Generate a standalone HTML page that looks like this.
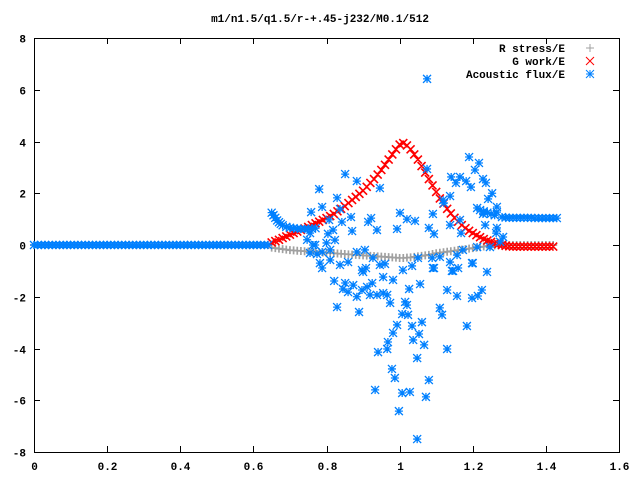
<!DOCTYPE html>
<html><head><meta charset="utf-8"><style>
html,body{margin:0;padding:0;background:#fff;}
svg{display:block;font-family:"Liberation Mono",monospace;}
</style></head><body>
<svg id="chart" width="640" height="480" viewBox="0 0 640 480" xmlns="http://www.w3.org/2000/svg">
<rect x="0" y="0" width="640" height="480" fill="#fff"/>
<text x="320" y="22" text-anchor="middle" font-size="11" font-weight="bold" fill="#000">m1/n1.5/q1.5/r-+.45-j232/M0.1/512</text>
<g id="axes"></g>
<g id="series"></g>
<g id="legend"></g>
</svg>
<script>
const xTicks = [0, 0.2, 0.4, 0.6, 0.8, 1, 1.2, 1.4, 1.6];
const xTickLabels = ["0", "0.2", "0.4", "0.6", "0.8", "1", "1.2", "1.4", "1.6"];
const yTicks = [-8, -6, -4, -2, 0, 2, 4, 6, 8];
const yTickLabels = ["-8", "-6", "-4", "-2", "0", "2", "4", "6", "8"];
const curveX0 = 0.65;
const gWork = [0.10,0.15,0.20,0.27,0.33,0.40,0.46,0.52,0.58,0.64,0.70,0.77,0.84,0.90,0.97,1.04,1.12,1.20,1.30,1.40,1.50,1.62,1.74,1.86,1.98,2.10,2.25,2.40,2.55,2.72,2.90,3.10,3.30,3.50,3.70,3.88,3.94,3.85,3.70,3.50,3.30,3.05,2.80,2.55,2.30,2.05,1.80,1.60,1.40,1.22,1.05,0.90,0.77,0.65,0.55,0.46,0.38,0.30,0.23,0.17,0.12,0.07,0.03,0.00,-0.03,-0.05,-0.06,-0.06,-0.06,-0.06,-0.06,-0.06,-0.06,-0.06,-0.06,-0.06,-0.06,-0.06];
const rStress = [-0.10,-0.12,-0.14,-0.16,-0.18,-0.20,-0.21,-0.22,-0.23,-0.24,-0.25,-0.26,-0.27,-0.28,-0.29,-0.30,-0.31,-0.32,-0.33,-0.34,-0.35,-0.36,-0.37,-0.38,-0.39,-0.40,-0.41,-0.42,-0.43,-0.44,-0.45,-0.46,-0.47,-0.48,-0.49,-0.50,-0.50,-0.49,-0.48,-0.46,-0.44,-0.42,-0.40,-0.38,-0.35,-0.32,-0.30,-0.28,-0.26,-0.24,-0.22,-0.20,-0.18,-0.16,-0.14,-0.12,-0.10,-0.08,-0.06,-0.04,-0.03,-0.02,-0.01,0.00,0.00,0.00,0.00,0.00,0.00,0.00,0.00,0.00,0.00,0.00,0.00,0.00,0.00,0.00];
const flatR = [0,0,0,0,0,0,0,0,0,0,0,0,0,0,0,0,0,0,0,0,0,0,0,0,0,0,0,0,0,0,0,0,0,0,0,0,0,0,0,0,0,0,0,0,0,0,0,0,0,0,0,0,0,0,0,0,0,0,0,0,0,0,0,0,0];
const flatA = [0,0,0,0,0,0,0,0,0,0,0,0,0,0,0,0,0,0,0,0,0,0,0,0,0,0,0,0,0,0,0,0,0,0,0,0,0,0,0,0,0,0,0,0,0,0,0,0,0,0,0,0,0,0,0,0,0,0,0,0,0,0,0,0,0];
const acX = [0.65,0.655,0.66,0.665,0.67,0.675,0.68,0.69,0.70,0.71,0.72,0.73,0.74,0.75,0.76,0.77,
1.075,0.851,0.883,0.78,0.946,0.829,0.788,0.758,0.837,0.867,0.842,0.807,0.818,0.804,0.87,0.922,0.914,0.938,0.993,1.001,1.02,1.042,1.08,1.094,1.091,1.075,1.119,1.138,1.141,1.165,1.154,1.182,1.19,1.217,1.206,1.228,1.236,1.195,1.253,1.242,1.212,1.228,1.266,1.234,1.266,1.264,1.165,1.168,1.138,1.121,
0.763,0.755,0.747,0.769,0.774,0.788,0.81,0.80,0.823,0.755,0.782,0.788,0.81,0.837,0.859,0.883,0.897,0.908,0.905,0.927,0.946,0.96,1.009,1.034,1.05,1.091,1.089,1.11,1.138,1.146,1.16,1.157,1.173,1.198,1.239,1.212,1.247,1.275,1.283,
0.821,0.851,0.845,0.859,0.873,0.883,0.897,0.911,0.925,0.919,0.938,0.955,0.966,0.974,0.982,0.955,1.026,1.056,1.015,1.02,1.007,1.023,1.061,1.034,0.993,0.982,1.053,0.968,1.037,1.067,0.941,0.966,1.13,1.157,1.11,1.116,1.198,1.214,1.225,1.184,1.13,1.048,0.979,0.987,1.08,0.933,1.007,1.028,1.072,0.998,1.048,0.829,0.889,1.094,1.143,1.2,1.239,0.9,
1.22,1.23,1.24,1.25,1.26,1.266,1.28,1.29,1.30,1.31,1.32,1.33,1.34,1.35,1.36,1.37,1.38,1.39,1.40,1.41,1.42,1.43];
const acY = [1.25,1.15,1.05,0.95,0.88,0.82,0.76,0.70,0.67,0.65,0.63,0.62,0.62,0.62,0.63,0.65,
6.42,2.74,2.47,2.16,2.2,1.82,1.47,1.27,1.39,1.08,0.89,0.97,0.58,0.43,0.54,1.04,0.89,0.58,0.62,1.24,1.0,0.93,0.66,0.43,1.2,2.94,1.74,1.89,2.63,2.63,2.4,2.47,3.4,3.17,2.9,2.55,2.4,2.24,2.0,1.78,1.43,1.2,1.47,0.77,0.66,0.46,0.97,0.46,0.77,1.62,
0.0,0.46,0.2,0.0,-0.35,-0.27,-0.19,0.08,0.19,-0.31,-0.7,-0.89,-0.58,-0.77,-0.66,-0.27,-0.97,-0.89,-0.19,-0.5,-0.77,-0.73,-0.97,-0.81,-0.5,-0.89,-0.5,-0.46,-0.66,-1.0,-0.89,-0.39,-0.19,-0.7,-1.04,-0.08,-0.08,0.12,0.31,
-1.39,-1.47,-1.7,-1.82,-1.55,-2.0,-1.74,-1.62,-1.47,-1.93,-1.93,-1.86,-1.93,-2.24,-1.35,-1.24,-1.7,-1.51,-2.2,-2.32,-2.67,-2.7,-2.98,-3.13,-3.09,-3.4,-3.44,-3.75,-3.67,-3.86,-4.14,-4.02,-1.74,-1.97,-2.43,-2.7,-2.05,-1.97,-1.74,-3.13,-4.02,-4.37,-4.79,-5.14,-5.22,-5.6,-5.72,-5.68,-5.87,-6.42,-7.5,-2.4,-2.59,-0.89,-1.0,-0.7,-1.04,-1.04,
1.35,1.3,1.25,1.2,1.15,1.27,1.08,1.06,1.05,1.05,1.05,1.05,1.05,1.05,1.05,1.04,1.04,1.04,1.04,1.04,1.04,1.04];

const L = 34, R = 619, T = 38, B = 452;
const xMin = 0, xMax = 1.6, yMin = -8, yMax = 8;
function sx(v){ return L + (v - xMin) / (xMax - xMin) * (R - L); }
function sy(v){ return B - (v - yMin) / (yMax - yMin) * (B - T); }
const NS = "http://www.w3.org/2000/svg";
function mk(tag, parent){ const e = document.createElementNS(NS, tag); parent.appendChild(e); return e; }

const axes = document.getElementById('axes');
const frame = mk('rect', axes);


frame.setAttribute('x', L + 0.5); frame.setAttribute('y', T + 0.5);
frame.setAttribute('width', R - L); frame.setAttribute('height', B - T);
frame.setAttribute('fill', 'none'); frame.setAttribute('stroke', '#000'); frame.setAttribute('stroke-width', '1');
xTicks.forEach((t, i) => {
  const x = Math.round(sx(t)) + 0.5;
  const tk = mk('path', axes);
  
  
  tk.setAttribute('d', `M${x},${B}v-6M${x},${T}v6`);
  tk.setAttribute('stroke', '#000');
  const lb = mk('text', axes);
  
  
  lb.setAttribute('x', x); lb.setAttribute('y', B + 18);
  lb.setAttribute('text-anchor', 'middle'); lb.setAttribute('font-size', '11'); lb.setAttribute('font-weight', 'bold');
  lb.textContent = xTickLabels[i];
});
yTicks.forEach((t, i) => {
  const y = Math.round(sy(t)) + 0.5;
  const tk = mk('path', axes);
  
  
  tk.setAttribute('d', `M${L},${y}h6M${R},${y}h-6`);
  tk.setAttribute('stroke', '#000');
  const lb = mk('text', axes);
  
  
  lb.setAttribute('x', 26); lb.setAttribute('y', y + 4);
  lb.setAttribute('text-anchor', 'end'); lb.setAttribute('font-size', '11'); lb.setAttribute('font-weight', 'bold');
  lb.textContent = yTickLabels[i];
});

const s = 4;
function plusD(x, y){ return `M${x-s},${y}h${2*s}M${x},${y-s}v${2*s}`; }
function crossD(x, y){ return `M${x-s},${y-s}l${2*s},${2*s}M${x-s},${y+s}l${2*s},${-2*s}`; }
function starD(x, y){ return plusD(x, y) + crossD(x, y); }

const series = document.getElementById('series');
function drawSeries(name, color, shape, xs, ys, w){
  let d = '';
  for (let i = 0; i < xs.length; i++) d += shape(sx(xs[i]), sy(ys[i]));
  const p = mk('path', series);
  
  
  p.setAttribute('d', d); p.setAttribute('stroke', color); p.setAttribute('stroke-width', w); p.setAttribute('fill', 'none');
}
const flatX = flatR.map((_, i) => i * 0.01);
const curveX = gWork.map((_, i) => curveX0 + i * 0.01);
drawSeries('r-stress-series', '#a0a0a0', plusD, flatX.concat(curveX), flatR.concat(rStress), '1.7');
drawSeries('g-work-series', '#ff0000', crossD, curveX, gWork, '1.6');
drawSeries('acoustic-flux-series', '#0080ff', starD, flatX.concat(acX), flatA.concat(acY), '1.3');

const legend = document.getElementById('legend');
const entries = [["R stress/E", '#a0a0a0', plusD], ["G work/E", '#ff0000', crossD], ["Acoustic flux/E", '#0080ff', starD]];
entries.forEach((e, i) => {
  const y = 48 + i * 13;
  const t = mk('text', legend);
  
  
  t.setAttribute('x', 565); t.setAttribute('y', y + 4);
  t.setAttribute('text-anchor', 'end'); t.setAttribute('font-size', '11'); t.setAttribute('font-weight', 'bold');
  t.textContent = e[0];
  const m = mk('path', legend);
  
  
  m.setAttribute('d', e[2](590, y)); m.setAttribute('stroke', e[1]); m.setAttribute('fill', 'none');
});
</script>
</body></html>
